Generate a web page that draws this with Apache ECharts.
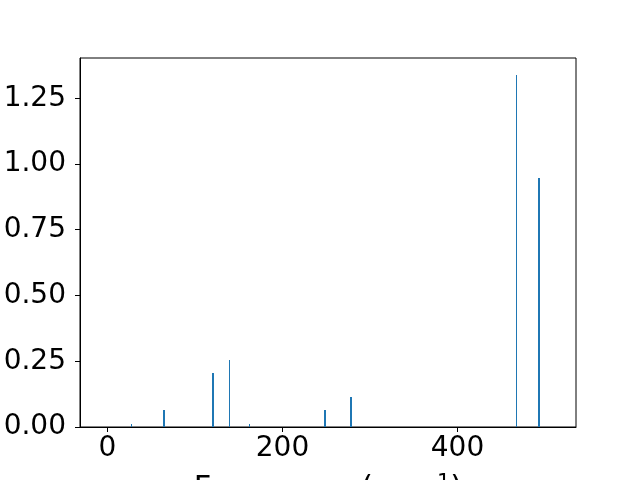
<!DOCTYPE html>
<html>
<head>
<meta charset="utf-8">
<script src="https://cdn.jsdelivr.net/npm/echarts@6/dist/echarts.min.js"></script>
<style>html,body{margin:0;padding:0;background:#fff;}#c{width:640px;height:480px;}</style>
</head>
<body>
<div id="c"></div>
<script>
const frequencies = [27.4, 64.6, 120.6, 139.4, 162.3, 248.6, 278.3, 467.4, 493.1];
const intensities = [0.011, 0.065, 0.205, 0.255, 0.011, 0.065, 0.114, 1.338, 0.947];
const xTicks = [0, 200, 400];
const yTicks = [0, 0.25, 0.5, 0.75, 1.0, 1.25];
const xLabel = 'Frequency (cm{sup|\u22121})';

const barHalfWidth = 1;
const font = 'DejaVu Sans';
const chart = echarts.init(document.getElementById('c'), null, {renderer: 'canvas'});
chart.setOption({
  animation: false,
  backgroundColor: '#fff',
  grid: {left: 80, right: 64, top: 58, bottom: 53, containLabel: false, outerBoundsMode: 'none',
         show: true, borderColor: '#000', borderWidth: 1, backgroundColor: 'transparent'},
  xAxis: {
    type: 'value', min: -31.43, max: 535.43,
    name: xLabel, nameLocation: 'middle', nameGap: 46, nameMoveOverlap: false,
    nameTextStyle: {
      fontFamily: font, fontSize: 30.5, color: '#000', verticalAlign: 'top', lineHeight: 32,
      rich: {sup: {fontFamily: font, fontSize: 21, lineHeight: 21, color: '#000', verticalAlign: 'top'}}
    },
    axisLine: {show: true, onZero: false, lineStyle: {color: '#000', width: 1}},
    axisTick: {show: true, length: 5, lineStyle: {color: '#000'}, customValues: xTicks},
    axisLabel: {fontFamily: font, fontSize: 28, color: '#000', margin: 8, customValues: xTicks, formatter: v => String(v)},
    splitLine: {show: false}
  },
  yAxis: {
    type: 'value', min: 0, max: 1.403,
    axisLine: {show: true, onZero: false, lineStyle: {color: '#000', width: 1}},
    axisTick: {show: true, length: 5, lineStyle: {color: '#000'}, customValues: yTicks},
    axisLabel: {fontFamily: font, fontSize: 28, color: '#000', margin: 14, customValues: yTicks, formatter: v => v.toFixed(2)},
    splitLine: {show: false}
  },
  series: [{
    type: 'custom',
    data: frequencies.map((f, i) => [f, intensities[i]]),
    renderItem: function (params, api) {
      const x = api.value(0), y = api.value(1);
      const a = api.coord([x - barHalfWidth, 0]);
      const b = api.coord([x + barHalfWidth, y]);
      let l = Math.round(a[0]), r = Math.round(b[0]);
      if (r <= l) r = l + 1;
      const top = Math.round(b[1]);
      return {type: 'rect', shape: {x: l, y: top, width: r - l, height: a[1] - top}, style: {fill: '#1f77b4'}};
    }
  }]
});
</script>
</body>
</html>
